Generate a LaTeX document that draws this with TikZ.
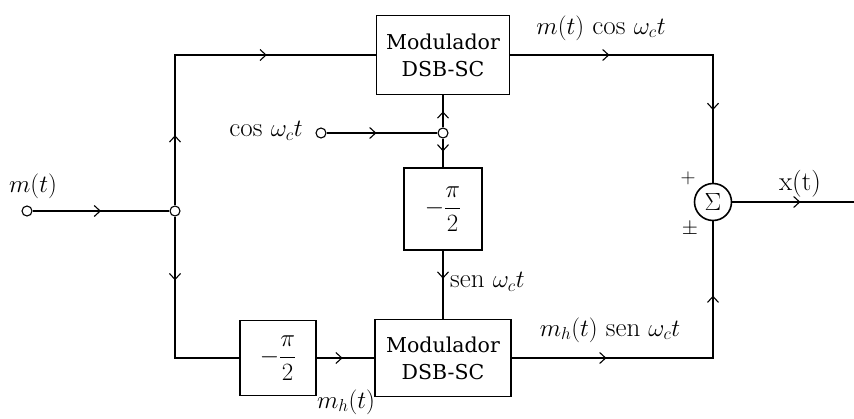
\documentclass[tikz,border=0pt]{standalone}
\usepackage{fontspec}
\usepackage{amsmath}
\newfontfamily\boxfont{DejaVu Serif}
\usetikzlibrary{arrows.meta,decorations.markings}
\tikzset{
  ln/.style={line width=1.2pt},
  blk/.style={draw,line width=1.7pt,inner sep=0pt,align=center,font=\boxfont\fontsize{20.5}{27}\selectfont},
  term/.style={draw,circle,line width=1.1pt,inner sep=0pt,minimum size=10pt},
  sumnode/.style={draw,circle,line width=1.6pt,inner sep=0pt,minimum size=37pt,font=\fontsize{24}{26}\selectfont},
  lab/.style={inner sep=1pt,font=\fontsize{27}{30}\selectfont},
  sgn/.style={inner sep=1pt,font=\fontsize{20}{22}\selectfont},
  frac/.style={font=\fontsize{28}{30}\selectfont},
  chev/.tip={Straight Barb[length=6pt,width=11pt,line width=1.1pt]},
  ma/.style={postaction={decorate},decoration={markings,mark=at position #1 with {\arrow{chev}}}},
  mb/.style 2 args={postaction={decorate},decoration={markings,mark=at position #1 with {\arrow{chev}},mark=at position #2 with {\arrow{chev}}}}
}
\begin{document}
\begin{tikzpicture}[x=1pt,y=-1pt]
\useasboundingbox[fill=white] (0,0) rectangle (854,418);
% nodes
\node[term] (in) at (27,211) {};
\node[term] (j1) at (175,211) {};
\node[term] (cosin) at (321,133) {};
\node[term] (j2) at (443,133) {};
\node[blk,minimum width=133pt,minimum height=79pt] (mod1) at (443,55) {Modulador\\DSB-SC};
\node[blk,frac,minimum width=78pt,minimum height=82pt] (ph1) at (443,209) {$-\dfrac{\pi}{2}$};
\node[blk,minimum width=136pt,minimum height=77pt] (mod2) at (443,358) {Modulador\\DSB-SC};
\node[blk,frac,minimum width=76pt,minimum height=75pt] (ph2) at (278,358) {$-\dfrac{\pi}{2}$};
\node[sumnode] (sum) at (713,202) {$\Sigma$};
\coordinate (out) at (854,202);
% labels
\node[lab] (lm) at (33,186) {$m(t)$};
\node[lab] (lcos) at (266,131) {$\cos\,\omega_c t$};
\node[lab] (ltop) at (601,28) {$m(t)\,\cos\,\omega_c t$};
\node[lab,anchor=west] (lsen) at (449,282) {sen $\omega_c t$};
\node[lab] (lbot) at (610,330) {$m_h(t)$ sen $\omega_c t$};
\node[lab] (lmh) at (346,402) {$m_h(t)$};
\node[lab] (lx) at (800,184) {x(t)};
\node[sgn] (lp1) at (688,178) {$+$};
\node[sgn] (lp2) at (690,229) {$\pm$};
% connectors
\draw[ln,ma=0.5] (in) -- (j1);
\draw[ln,mb={0.2}{0.69}] (j1) |- (mod1.west);
\draw[ln,ma=0.31] (j1) |- (ph2.west);
\draw[ln,ma=0.45] (ph2.east) -- (mod2.west);
\draw[ln,ma=0.45] (cosin) -- (j2);
\draw[ln,ma=0.5] (j2) -- (mod1.south);
\draw[ln,ma=0.45] (j2) -- (ph1.north);
\draw[ln,ma=0.41] (ph1.south) -- (mod2.north);
\draw[ln,mb={0.3}{0.78}] (mod1.east) -| (sum.north);
\draw[ln,mb={0.28}{0.78}] (mod2.east) -| (sum.south);
\draw[ln,ma=0.56] (sum.east) -- (out);
\end{tikzpicture}
\end{document}
